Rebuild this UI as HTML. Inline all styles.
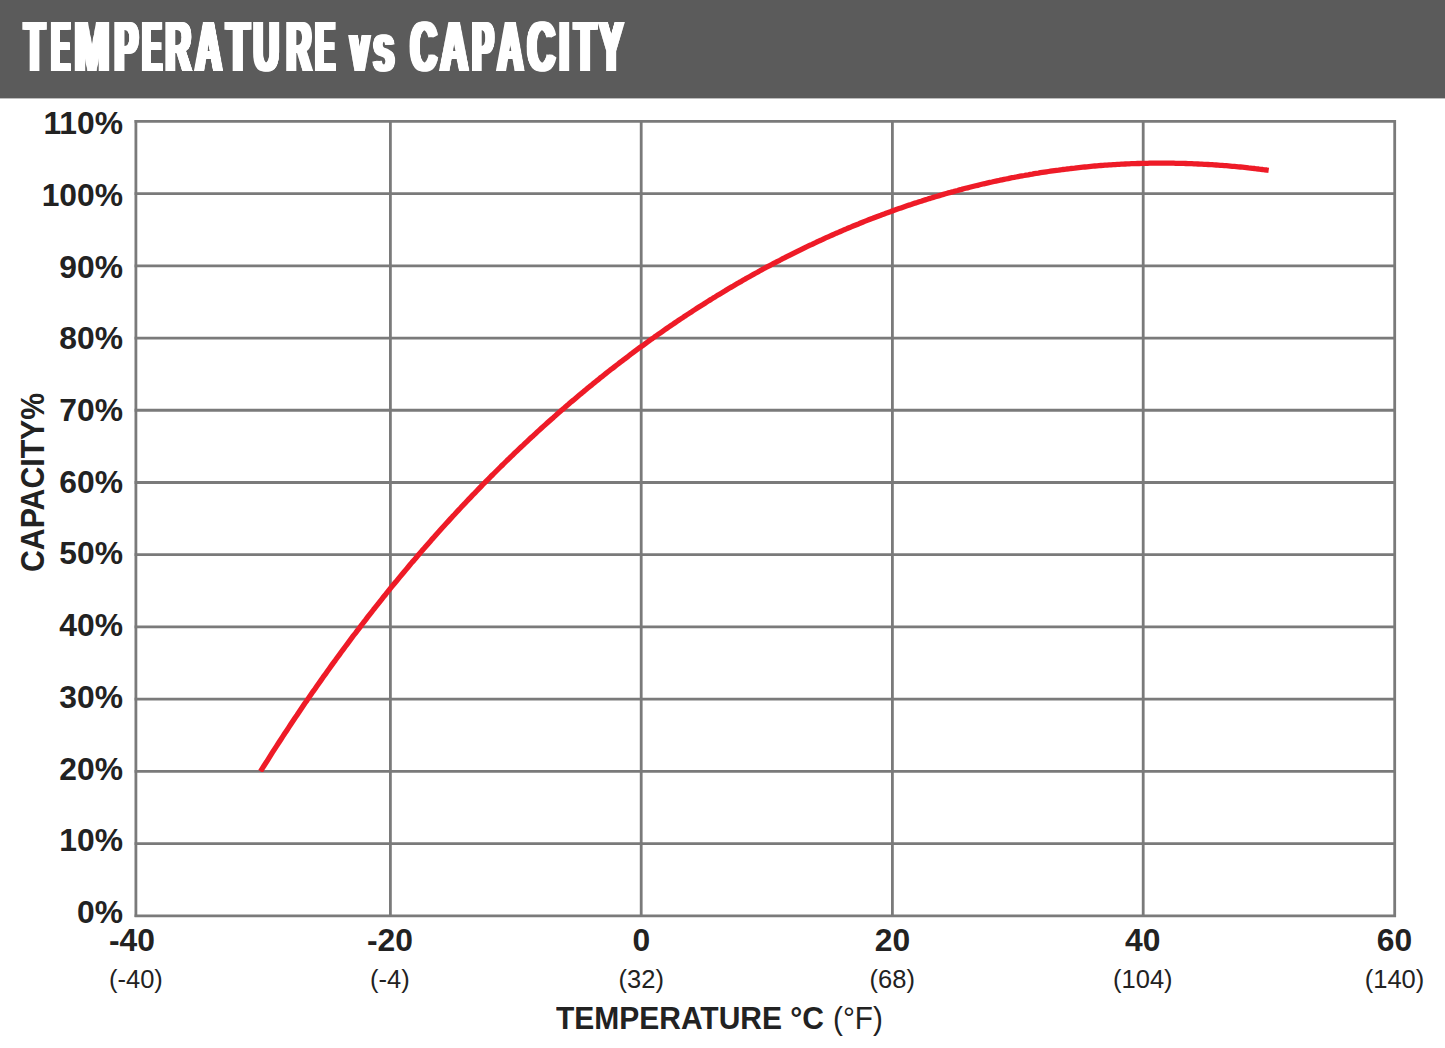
<!DOCTYPE html>
<html><head><meta charset="utf-8"><style>
html,body{margin:0;padding:0;}
body{width:1445px;height:1048px;position:relative;overflow:hidden;background:#fff;font-family:"Liberation Sans",sans-serif;color:#222;}

.tl{position:absolute;font-weight:bold;line-height:0px;height:0px;color:#fff;white-space:nowrap;transform-origin:0 0;will-change:transform;}
svg{position:absolute;left:0;top:0;}
.yl{position:absolute;right:1322px;font-weight:bold;font-size:31.8px;line-height:40px;white-space:nowrap;}
.xb{position:absolute;top:920px;width:120px;text-align:center;font-weight:bold;font-size:31.8px;line-height:40px;}
.xr{position:absolute;top:962px;width:120px;text-align:center;font-size:25.5px;line-height:34px;}
#xt{position:absolute;left:555.6px;top:999.2px;font-weight:bold;font-size:31.3px;line-height:40px;white-space:nowrap;transform-origin:0 0;transform:scaleX(0.958);}
#xt2{position:absolute;left:833.4px;top:999.2px;font-size:31.3px;line-height:40px;white-space:nowrap;transform-origin:0 0;transform:scaleX(0.949);}
#yt{position:absolute;left:0;top:0;font-weight:bold;font-size:33px;line-height:40px;white-space:nowrap;transform-origin:0 0;transform:translate(13px,572px) rotate(-90deg) scaleX(0.916);}
</style></head><body>
<svg width="1445" height="1048" viewBox="0 0 1445 1048">
<rect x="0" y="0" width="1445" height="98.4" fill="#5b5b5b"/>
<g stroke="#7a7a7a" stroke-width="2.8" fill="none">
<line x1="135.9" y1="120.08" x2="135.9" y2="917.0999999999999"/>
<line x1="390.4" y1="120.08" x2="390.4" y2="917.0999999999999"/>
<line x1="641.2" y1="120.08" x2="641.2" y2="917.0999999999999"/>
<line x1="892.4" y1="120.08" x2="892.4" y2="917.0999999999999"/>
<line x1="1143.2" y1="120.08" x2="1143.2" y2="917.0999999999999"/>
<line x1="1394.7" y1="120.08" x2="1394.7" y2="917.0999999999999"/>
<line x1="134.6" y1="915.80" x2="1396.0" y2="915.80"/>
<line x1="134.6" y1="843.58" x2="1396.0" y2="843.58"/>
<line x1="134.6" y1="771.36" x2="1396.0" y2="771.36"/>
<line x1="134.6" y1="699.14" x2="1396.0" y2="699.14"/>
<line x1="134.6" y1="626.92" x2="1396.0" y2="626.92"/>
<line x1="134.6" y1="554.70" x2="1396.0" y2="554.70"/>
<line x1="134.6" y1="482.48" x2="1396.0" y2="482.48"/>
<line x1="134.6" y1="410.26" x2="1396.0" y2="410.26"/>
<line x1="134.6" y1="338.04" x2="1396.0" y2="338.04"/>
<line x1="134.6" y1="265.82" x2="1396.0" y2="265.82"/>
<line x1="134.6" y1="193.60" x2="1396.0" y2="193.60"/>
<line x1="134.6" y1="121.38" x2="1396.0" y2="121.38"/>
</g>
<defs><clipPath id="cp"><rect x="0" y="0" width="1445" height="772"/></clipPath></defs>
<path d="M260.5,771.4 L262.5,768.2 L264.5,765.0 L266.6,761.8 L268.6,758.6 L270.6,755.4 L272.6,752.2 L274.6,749.1 L276.7,745.9 L278.7,742.8 L280.7,739.7 L282.7,736.6 L284.7,733.5 L286.8,730.4 L288.8,727.4 L290.8,724.3 L292.8,721.3 L294.8,718.3 L296.9,715.3 L298.9,712.3 L300.9,709.3 L302.9,706.3 L304.9,703.3 L307.0,700.4 L309.0,697.4 L311.0,694.5 L313.0,691.6 L315.1,688.7 L317.1,685.8 L319.1,682.9 L321.1,680.1 L323.1,677.2 L325.2,674.4 L327.2,671.5 L329.2,668.7 L331.2,665.9 L333.2,663.1 L335.3,660.3 L337.3,657.5 L339.3,654.8 L341.3,652.0 L343.3,649.3 L345.4,646.5 L347.4,643.8 L349.4,641.1 L351.4,638.4 L353.4,635.7 L355.5,633.1 L357.5,630.4 L359.5,627.8 L361.5,625.1 L363.5,622.5 L365.6,619.9 L367.6,617.2 L369.6,614.6 L371.6,612.1 L373.6,609.5 L375.7,606.9 L377.7,604.4 L379.7,601.8 L381.7,599.3 L383.7,596.7 L385.8,594.2 L387.8,591.7 L389.8,589.2 L391.8,586.7 L393.8,584.3 L395.9,581.8 L397.9,579.3 L399.9,576.9 L401.9,574.5 L404.0,572.0 L406.0,569.6 L408.0,567.2 L410.0,564.8 L412.0,562.4 L414.1,560.1 L416.1,557.7 L418.1,555.3 L420.1,553.0 L422.1,550.6 L424.2,548.3 L426.2,546.0 L428.2,543.7 L430.2,541.4 L432.2,539.1 L434.3,536.8 L436.3,534.5 L438.3,532.3 L440.3,530.0 L442.3,527.8 L444.4,525.5 L446.4,523.3 L448.4,521.1 L450.4,518.9 L452.4,516.7 L454.5,514.5 L456.5,512.3 L458.5,510.1 L460.5,508.0 L462.5,505.8 L464.6,503.7 L466.6,501.5 L468.6,499.4 L470.6,497.3 L472.6,495.2 L474.7,493.1 L476.7,491.0 L478.7,488.9 L480.7,486.8 L482.7,484.7 L484.8,482.7 L486.8,480.6 L488.8,478.6 L490.8,476.5 L492.9,474.5 L494.9,472.5 L496.9,470.5 L498.9,468.5 L500.9,466.5 L503.0,464.5 L505.0,462.5 L507.0,460.5 L509.0,458.6 L511.0,456.6 L513.1,454.7 L515.1,452.7 L517.1,450.8 L519.1,448.9 L521.1,447.0 L523.2,445.1 L525.2,443.2 L527.2,441.3 L529.2,439.4 L531.2,437.5 L533.3,435.7 L535.3,433.8 L537.3,431.9 L539.3,430.1 L541.3,428.3 L543.4,426.4 L545.4,424.6 L547.4,422.8 L549.4,421.0 L551.4,419.2 L553.5,417.4 L555.5,415.6 L557.5,413.8 L559.5,412.1 L561.5,410.3 L563.6,408.6 L565.6,406.8 L567.6,405.1 L569.6,403.3 L571.6,401.6 L573.7,399.9 L575.7,398.2 L577.7,396.5 L579.7,394.8 L581.8,393.1 L583.8,391.4 L585.8,389.8 L587.8,388.1 L589.8,386.4 L591.9,384.8 L593.9,383.1 L595.9,381.5 L597.9,379.9 L599.9,378.2 L602.0,376.6 L604.0,375.0 L606.0,373.4 L608.0,371.8 L610.0,370.2 L612.1,368.7 L614.1,367.1 L616.1,365.5 L618.1,364.0 L620.1,362.4 L622.2,360.9 L624.2,359.3 L626.2,357.8 L628.2,356.3 L630.2,354.7 L632.3,353.2 L634.3,351.7 L636.3,350.2 L638.3,348.7 L640.3,347.2 L642.4,345.8 L644.4,344.3 L646.4,342.8 L648.4,341.4 L650.4,339.9 L652.5,338.5 L654.5,337.0 L656.5,335.6 L658.5,334.2 L660.5,332.8 L662.6,331.3 L664.6,329.9 L666.6,328.5 L668.6,327.1 L670.6,325.8 L672.7,324.4 L674.7,323.0 L676.7,321.6 L678.7,320.3 L680.8,318.9 L682.8,317.6 L684.8,316.2 L686.8,314.9 L688.8,313.6 L690.9,312.3 L692.9,310.9 L694.9,309.6 L696.9,308.3 L698.9,307.0 L701.0,305.7 L703.0,304.5 L705.0,303.2 L707.0,301.9 L709.0,300.6 L711.1,299.4 L713.1,298.1 L715.1,296.9 L717.1,295.6 L719.1,294.4 L721.2,293.2 L723.2,292.0 L725.2,290.8 L727.2,289.5 L729.2,288.3 L731.3,287.1 L733.3,286.0 L735.3,284.8 L737.3,283.6 L739.3,282.4 L741.4,281.3 L743.4,280.1 L745.4,278.9 L747.4,277.8 L749.4,276.7 L751.5,275.5 L753.5,274.4 L755.5,273.3 L757.5,272.2 L759.5,271.0 L761.6,269.9 L763.6,268.8 L765.6,267.7 L767.6,266.7 L769.7,265.6 L771.7,264.5 L773.7,263.4 L775.7,262.4 L777.7,261.3 L779.8,260.3 L781.8,259.2 L783.8,258.2 L785.8,257.1 L787.8,256.1 L789.9,255.1 L791.9,254.1 L793.9,253.1 L795.9,252.1 L797.9,251.1 L800.0,250.1 L802.0,249.1 L804.0,248.1 L806.0,247.1 L808.0,246.2 L810.1,245.2 L812.1,244.3 L814.1,243.3 L816.1,242.4 L818.1,241.4 L820.2,240.5 L822.2,239.6 L824.2,238.6 L826.2,237.7 L828.2,236.8 L830.3,235.9 L832.3,235.0 L834.3,234.1 L836.3,233.2 L838.3,232.4 L840.4,231.5 L842.4,230.6 L844.4,229.7 L846.4,228.9 L848.4,228.0 L850.5,227.2 L852.5,226.3 L854.5,225.5 L856.5,224.7 L858.6,223.9 L860.6,223.0 L862.6,222.2 L864.6,221.4 L866.6,220.6 L868.7,219.8 L870.7,219.0 L872.7,218.3 L874.7,217.5 L876.7,216.7 L878.8,215.9 L880.8,215.2 L882.8,214.4 L884.8,213.7 L886.8,212.9 L888.9,212.2 L890.9,211.5 L892.9,210.7 L894.9,210.0 L896.9,209.3 L899.0,208.6 L901.0,207.9 L903.0,207.2 L905.0,206.5 L907.0,205.8 L909.1,205.1 L911.1,204.5 L913.1,203.8 L915.1,203.1 L917.1,202.5 L919.2,201.8 L921.2,201.2 L923.2,200.5 L925.2,199.9 L927.2,199.3 L929.3,198.6 L931.3,198.0 L933.3,197.4 L935.3,196.8 L937.3,196.2 L939.4,195.6 L941.4,195.0 L943.4,194.4 L945.4,193.8 L947.4,193.2 L949.5,192.7 L951.5,192.1 L953.5,191.6 L955.5,191.0 L957.6,190.5 L959.6,189.9 L961.6,189.4 L963.6,188.8 L965.6,188.3 L967.7,187.8 L969.7,187.3 L971.7,186.8 L973.7,186.3 L975.7,185.8 L977.8,185.3 L979.8,184.8 L981.8,184.3 L983.8,183.8 L985.8,183.4 L987.9,182.9 L989.9,182.4 L991.9,182.0 L993.9,181.5 L995.9,181.1 L998.0,180.7 L1000.0,180.2 L1002.0,179.8 L1004.0,179.4 L1006.0,179.0 L1008.1,178.6 L1010.1,178.1 L1012.1,177.7 L1014.1,177.4 L1016.1,177.0 L1018.2,176.6 L1020.2,176.2 L1022.2,175.8 L1024.2,175.5 L1026.2,175.1 L1028.3,174.8 L1030.3,174.4 L1032.3,174.1 L1034.3,173.7 L1036.3,173.4 L1038.4,173.1 L1040.4,172.7 L1042.4,172.4 L1044.4,172.1 L1046.5,171.8 L1048.5,171.5 L1050.5,171.2 L1052.5,170.9 L1054.5,170.6 L1056.6,170.3 L1058.6,170.1 L1060.6,169.8 L1062.6,169.5 L1064.6,169.3 L1066.7,169.0 L1068.7,168.8 L1070.7,168.5 L1072.7,168.3 L1074.7,168.1 L1076.8,167.8 L1078.8,167.6 L1080.8,167.4 L1082.8,167.2 L1084.8,167.0 L1086.9,166.8 L1088.9,166.6 L1090.9,166.4 L1092.9,166.2 L1094.9,166.0 L1097.0,165.9 L1099.0,165.7 L1101.0,165.5 L1103.0,165.4 L1105.0,165.2 L1107.1,165.1 L1109.1,164.9 L1111.1,164.8 L1113.1,164.7 L1115.1,164.6 L1117.2,164.4 L1119.2,164.3 L1121.2,164.2 L1123.2,164.1 L1125.2,164.0 L1127.3,163.9 L1129.3,163.8 L1131.3,163.7 L1133.3,163.7 L1135.4,163.6 L1137.4,163.5 L1139.4,163.5 L1141.4,163.4 L1143.4,163.4 L1145.5,163.3 L1147.5,163.3 L1149.5,163.2 L1151.5,163.2 L1153.5,163.2 L1155.6,163.2 L1157.6,163.2 L1159.6,163.1 L1161.6,163.1 L1163.6,163.1 L1165.7,163.1 L1167.7,163.2 L1169.7,163.2 L1171.7,163.2 L1173.7,163.2 L1175.8,163.3 L1177.8,163.3 L1179.8,163.3 L1181.8,163.4 L1183.8,163.4 L1185.9,163.5 L1187.9,163.6 L1189.9,163.6 L1191.9,163.7 L1193.9,163.8 L1196.0,163.9 L1198.0,164.0 L1200.0,164.1 L1202.0,164.2 L1204.0,164.3 L1206.1,164.4 L1208.1,164.5 L1210.1,164.6 L1212.1,164.7 L1214.1,164.9 L1216.2,165.0 L1218.2,165.1 L1220.2,165.3 L1222.2,165.4 L1224.3,165.6 L1226.3,165.7 L1228.3,165.9 L1230.3,166.1 L1232.3,166.3 L1234.4,166.4 L1236.4,166.6 L1238.4,166.8 L1240.4,167.0 L1242.4,167.2 L1244.5,167.4 L1246.5,167.6 L1248.5,167.9 L1250.5,168.1 L1252.5,168.3 L1254.6,168.5 L1256.6,168.8 L1258.6,169.0 L1260.6,169.3 L1262.6,169.5 L1264.7,169.8 L1266.7,170.0 L1268.7,170.3" stroke="#ee1b27" stroke-width="5.3" fill="none" stroke-linecap="butt" stroke-linejoin="round" clip-path="url(#cp)"/>
</svg>
<div class="tl" style="left:22.43px;top:46.20px;font-size:71.3px;transform:scaleX(0.4597);text-shadow:2.72px 0 0 #fff,5.44px 0 0 #fff,8.16px 0 0 #fff,10.88px 0 0 #fff"><span style="vertical-align:baseline">T</span></div>
<div class="tl" style="left:48.55px;top:46.20px;font-size:71.3px;transform:scaleX(0.3875);text-shadow:3.23px 0 0 #fff,6.45px 0 0 #fff,9.68px 0 0 #fff,12.90px 0 0 #fff"><span style="vertical-align:baseline">E</span></div>
<div class="tl" style="left:72.00px;top:46.20px;font-size:71.3px;transform:scaleX(0.5877);text-shadow:2.13px 0 0 #fff,4.25px 0 0 #fff,6.38px 0 0 #fff,8.51px 0 0 #fff"><span style="vertical-align:baseline">M</span></div>
<div class="tl" style="left:111.75px;top:46.20px;font-size:71.3px;transform:scaleX(0.4932);text-shadow:2.53px 0 0 #fff,5.07px 0 0 #fff,7.60px 0 0 #fff,10.14px 0 0 #fff"><span style="vertical-align:baseline">P</span></div>
<div class="tl" style="left:140.49px;top:46.20px;font-size:71.3px;transform:scaleX(0.4000);text-shadow:3.13px 0 0 #fff,6.25px 0 0 #fff,9.38px 0 0 #fff,12.50px 0 0 #fff"><span style="vertical-align:baseline">E</span></div>
<div class="tl" style="left:163.24px;top:46.20px;font-size:71.3px;transform:scaleX(0.4949);text-shadow:2.53px 0 0 #fff,5.05px 0 0 #fff,7.58px 0 0 #fff,10.10px 0 0 #fff"><span style="vertical-align:baseline">R</span></div>
<div class="tl" style="left:193.40px;top:46.20px;font-size:71.3px;transform:scaleX(0.5059);text-shadow:2.47px 0 0 #fff,4.94px 0 0 #fff,7.41px 0 0 #fff,9.88px 0 0 #fff"><span style="vertical-align:baseline">A</span></div>
<div class="tl" style="left:223.68px;top:46.20px;font-size:71.3px;transform:scaleX(0.5192);text-shadow:2.41px 0 0 #fff,4.81px 0 0 #fff,7.22px 0 0 #fff,9.63px 0 0 #fff"><span style="vertical-align:baseline">T</span></div>
<div class="tl" style="left:251.28px;top:46.20px;font-size:71.3px;transform:scaleX(0.4947);text-shadow:2.53px 0 0 #fff,5.05px 0 0 #fff,7.58px 0 0 #fff,10.11px 0 0 #fff"><span style="vertical-align:baseline">U</span></div>
<div class="tl" style="left:283.50px;top:46.20px;font-size:71.3px;transform:scaleX(0.4817);text-shadow:2.60px 0 0 #fff,5.19px 0 0 #fff,7.79px 0 0 #fff,10.38px 0 0 #fff"><span style="vertical-align:baseline">R</span></div>
<div class="tl" style="left:313.17px;top:46.20px;font-size:71.3px;transform:scaleX(0.4050);text-shadow:3.09px 0 0 #fff,6.17px 0 0 #fff,9.26px 0 0 #fff,12.35px 0 0 #fff"><span style="vertical-align:baseline">E</span></div>
<div class="tl" style="left:348.17px;top:47.20px;font-size:68.0px;transform:scaleX(0.4885);text-shadow:2.56px 0 0 #fff,5.12px 0 0 #fff,7.68px 0 0 #fff,10.23px 0 0 #fff"><span style="vertical-align:baseline">v</span></div>
<div class="tl" style="left:371.30px;top:47.20px;font-size:68.0px;transform:scaleX(0.5423);text-shadow:2.30px 0 0 #fff,4.61px 0 0 #fff,6.91px 0 0 #fff,9.22px 0 0 #fff"><span style="vertical-align:baseline">s</span></div>
<div class="tl" style="left:407.71px;top:46.20px;font-size:71.3px;transform:scaleX(0.5105);text-shadow:2.45px 0 0 #fff,4.90px 0 0 #fff,7.35px 0 0 #fff,9.79px 0 0 #fff"><span style="vertical-align:baseline">C</span></div>
<div class="tl" style="left:438.16px;top:46.20px;font-size:71.3px;transform:scaleX(0.5310);text-shadow:2.35px 0 0 #fff,4.71px 0 0 #fff,7.06px 0 0 #fff,9.42px 0 0 #fff"><span style="vertical-align:baseline">A</span></div>
<div class="tl" style="left:470.21px;top:46.20px;font-size:71.3px;transform:scaleX(0.4387);text-shadow:2.85px 0 0 #fff,5.70px 0 0 #fff,8.55px 0 0 #fff,11.40px 0 0 #fff"><span style="vertical-align:baseline">P</span></div>
<div class="tl" style="left:494.62px;top:46.20px;font-size:71.3px;transform:scaleX(0.4975);text-shadow:2.51px 0 0 #fff,5.02px 0 0 #fff,7.54px 0 0 #fff,10.05px 0 0 #fff"><span style="vertical-align:baseline">A</span></div>
<div class="tl" style="left:524.94px;top:46.20px;font-size:71.3px;transform:scaleX(0.5341);text-shadow:2.34px 0 0 #fff,4.68px 0 0 #fff,7.02px 0 0 #fff,9.36px 0 0 #fff"><span style="vertical-align:baseline">C</span></div>
<div class="tl" style="left:556.92px;top:46.20px;font-size:71.3px;transform:scaleX(0.4771);text-shadow:2.62px 0 0 #fff,5.24px 0 0 #fff,7.86px 0 0 #fff,10.48px 0 0 #fff"><span style="vertical-align:baseline">I</span></div>
<div class="tl" style="left:571.51px;top:46.20px;font-size:71.3px;transform:scaleX(0.4883);text-shadow:2.56px 0 0 #fff,5.12px 0 0 #fff,7.68px 0 0 #fff,10.24px 0 0 #fff"><span style="vertical-align:baseline">T</span></div>
<div class="tl" style="left:597.30px;top:46.20px;font-size:71.3px;transform:scaleX(0.4913);text-shadow:2.54px 0 0 #fff,5.09px 0 0 #fff,7.63px 0 0 #fff,10.18px 0 0 #fff"><span style="vertical-align:baseline">Y</span></div>
<div class="yl" style="top:891.90px">0%</div>
<div class="yl" style="top:820.20px">10%</div>
<div class="yl" style="top:748.50px">20%</div>
<div class="yl" style="top:676.80px">30%</div>
<div class="yl" style="top:605.10px">40%</div>
<div class="yl" style="top:533.40px">50%</div>
<div class="yl" style="top:461.70px">60%</div>
<div class="yl" style="top:390.00px">70%</div>
<div class="yl" style="top:318.30px">80%</div>
<div class="yl" style="top:246.60px">90%</div>
<div class="yl" style="top:174.90px">100%</div>
<div class="yl" style="top:103.20px">110%</div>
<div class="xb" style="left:72.0px">-40</div><div class="xr" style="left:75.9px">(-40)</div>
<div class="xb" style="left:329.9px">-20</div><div class="xr" style="left:329.9px">(-4)</div>
<div class="xb" style="left:581.4px">0</div><div class="xr" style="left:581.3px">(32)</div>
<div class="xb" style="left:832.5px">20</div><div class="xr" style="left:832.3px">(68)</div>
<div class="xb" style="left:1082.7px">40</div><div class="xr" style="left:1082.8px">(104)</div>
<div class="xb" style="left:1334.5px">60</div><div class="xr" style="left:1334.5px">(140)</div>
<div id="xt">TEMPERATURE °C</div><div id="xt2">(°F)</div>
<div id="yt">CAPACITY%</div>
</body></html>
